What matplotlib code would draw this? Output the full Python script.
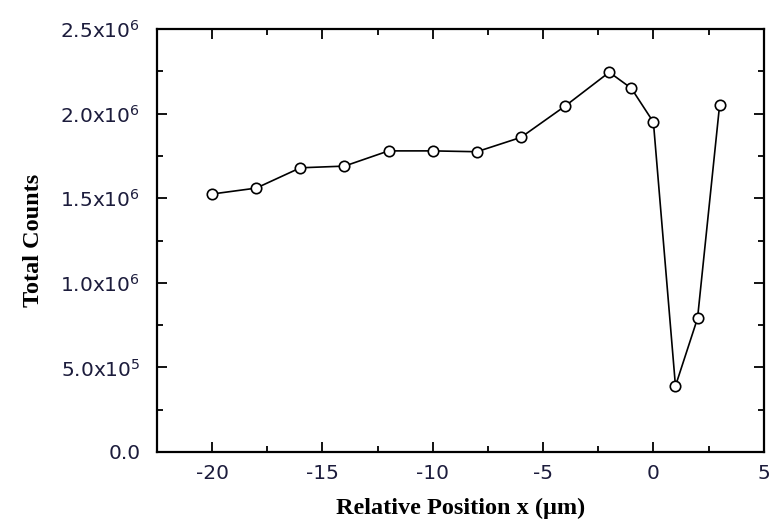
import numpy as np
import matplotlib.pyplot as plt
from matplotlib.ticker import MultipleLocator

plt.rcParams['mathtext.fontset'] = 'dejavusans'
plt.rcParams['axes.unicode_minus'] = False

# Data
pos = [-20, -18, -16, -14, -12, -10, -8, -6, -4, -2, -1, 0, 1, 2, 3]
counts = [1.525e6, 1.56e6, 1.68e6, 1.69e6, 1.78e6, 1.78e6, 1.775e6, 1.86e6,
          2.045e6, 2.245e6, 2.15e6, 1.95e6, 0.39e6, 0.79e6, 2.05e6]
yticks = [0, 5e5, 1e6, 1.5e6, 2e6, 2.5e6]
ytick_labels = ['0.0', r'5.0x10$^5$', r'1.0x10$^6$', r'1.5x10$^6$',
                r'2.0x10$^6$', r'2.5x10$^6$']

fig = plt.figure(figsize=(7.73, 5.29), dpi=100)
ax = fig.add_axes([0.203, 0.1456, 0.785, 0.7994])

ax.plot(pos, counts, color='black', lw=1.2, marker='o', ms=7.5,
        mfc='white', mec='black', mew=1.2)

ax.set_xlim(-22.5, 5)
ax.set_ylim(0, 2.5e6)
ax.xaxis.set_major_locator(MultipleLocator(5))
ax.xaxis.set_minor_locator(MultipleLocator(2.5))
ax.set_yticks(yticks)
ax.set_yticklabels(ytick_labels)
ax.yaxis.set_minor_locator(MultipleLocator(2.5e5))

ax.tick_params(which='both', direction='in', top=True, right=True,
               width=1.3, labelsize=14.5, labelcolor='#1c1c3c')
ax.tick_params(which='major', length=7)
ax.tick_params(axis='x', which='major', pad=9)
ax.tick_params(axis='y', which='major', pad=12)
ax.tick_params(which='minor', length=4)
for lab in ax.get_xticklabels() + ax.get_yticklabels():
    lab.set_fontfamily('DejaVu Sans')
for s in ax.spines.values():
    s.set_linewidth(1.6)

ax.set_xlabel('Relative Position x (\u03bcm)', fontsize=17.5, fontweight='bold',
              family='Liberation Serif', labelpad=10)
ax.set_ylabel('Total Counts', fontsize=17.5, fontweight='bold',
              family='Liberation Serif', labelpad=12)

fig.savefig('out.png', dpi=100)
